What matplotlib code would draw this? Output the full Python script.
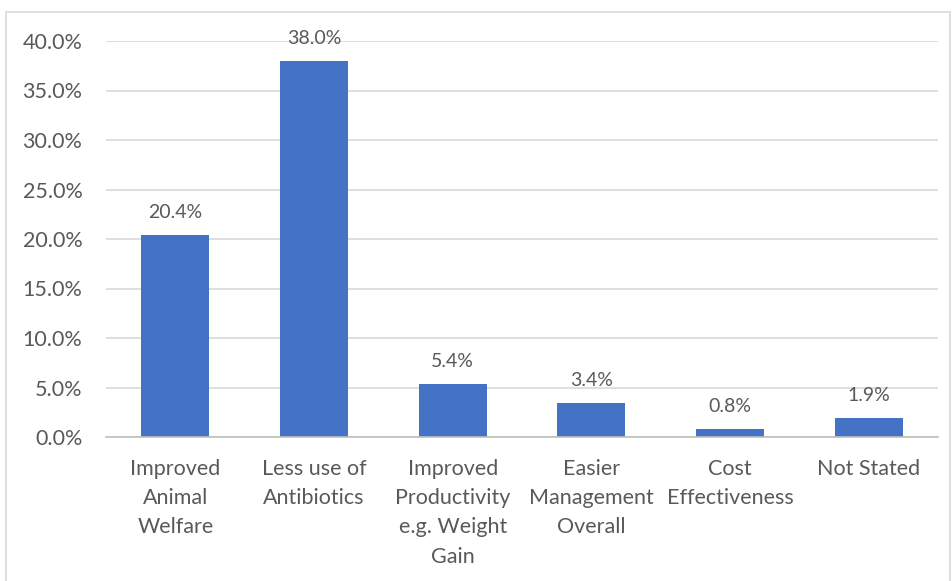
import matplotlib.pyplot as plt
from matplotlib.patches import Rectangle
from matplotlib.ticker import FuncFormatter, MultipleLocator

categories = [
    "Improved\nAnimal\nWelfare",
    "Less use of\nAntibiotics",
    "Improved\nProductivity\ne.g. Weight\nGain",
    "Easier\nManagement\nOverall",
    "Cost\nEffectiveness",
    "Not Stated",
]
values = [20.4, 38.0, 5.4, 3.4, 0.8, 1.9]

BAR = "#4472C4"
TEXT = "#595959"
GRID = "#D9D9D9"

plt.rcParams["font.family"] = ["Lato", "DejaVu Sans"]

fig = plt.figure(figsize=(9.53, 5.81), dpi=100)
fig.patch.set_facecolor("white")

# outer chart frame
fig.add_artist(Rectangle((6 / 953, -0.02), 944 / 953, 1 - 12 / 581 + 0.02,
                         transform=fig.transFigure, fill=False,
                         edgecolor="#D9D9D9", linewidth=1.2))

ax = fig.add_axes([106 / 953, 144 / 581, 832 / 953, 396 / 581])
x = list(range(len(categories)))
bars = ax.bar(x, values, width=0.49, color=BAR, zorder=3)

ax.set_xlim(-0.5, len(categories) - 0.5)
ax.set_ylim(0, 40)
ax.yaxis.set_major_locator(MultipleLocator(5))
ax.yaxis.set_major_formatter(FuncFormatter(lambda v, p: f"{v:.1f}%"))
ax.grid(axis="y", color=GRID, linewidth=1.2, zorder=0)
ax.set_axisbelow(True)

for s in ["top", "right", "left"]:
    ax.spines[s].set_visible(False)
ax.spines["bottom"].set_color("#BFBFBF")
ax.spines["bottom"].set_linewidth(1.2)
ax.spines["bottom"].set_zorder(4)

ax.set_xticks(x)
ax.set_xticklabels(categories, fontsize=15.5, color=TEXT, linespacing=1.57,
                   va="top")
ax.tick_params(axis="x", length=0, pad=16)
ax.tick_params(axis="y", length=0, pad=17, labelsize=15.5, labelcolor=TEXT)

for xi, v in zip(x, values):
    ax.annotate(f"{v:.1f}%", (xi, v), xytext=(0, 10), textcoords="offset points",
                ha="center", va="bottom", fontsize=14, color=TEXT)

fig.savefig("out.png", dpi=100)
